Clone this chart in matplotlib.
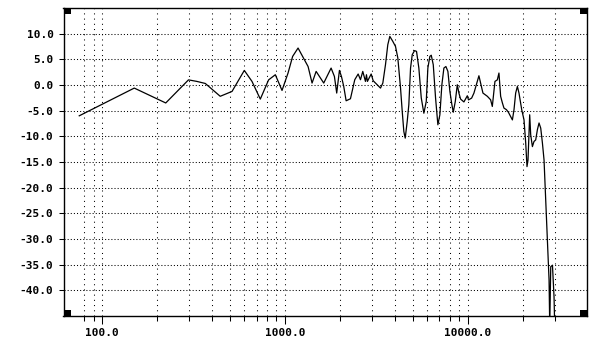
import matplotlib
matplotlib.use("Agg")
import matplotlib.pyplot as plt
from matplotlib.patches import Rectangle

# frequency response (Hz, dB)
freq = [75, 150, 223, 297, 330, 367, 443, 514, 600, 661, 734, 815, 887, 965,
        1041, 1103, 1181, 1295, 1340, 1409, 1483, 1632, 1791, 1867, 1922, 1989,
        2040, 2100, 2164, 2285, 2413, 2518, 2593, 2669, 2761, 2796, 2830, 2967,
        3043, 3266, 3337, 3436, 3553, 3658, 3752, 3897, 4032, 4151, 4295, 4388,
        4477, 4556, 4672, 4768, 4872, 4977, 5124, 5254, 5410, 5576, 5762, 5939,
        6060, 6214, 6325, 6487, 6678, 6875, 7050, 7230, 7416, 7606, 7800, 7998,
        8203, 8348, 8562, 8781, 8960, 9154, 9543, 9962, 10110, 10520, 10830,
        11160, 11530, 11780, 12130, 12820, 13360, 13650, 14110, 14540, 14840,
        15160, 15500, 15810, 16300, 16710, 17200, 17580, 17940, 18320, 18720,
        19100, 19770, 20350, 20790, 21130, 21400, 21860, 22140, 22620, 23080,
        23580, 24090, 24590, 25120, 25660, 26190, 26750, 27330, 27900, 28140,
        28500, 29120, 29710, 30000]
level = [-6.0, -0.6, -3.5, 1.0, 0.7, 0.3, -2.2, -1.25, 2.84, 0.7, -2.75, 1.0,
         2.0, -1.06, 2.33, 5.57, 7.2, 4.6, 3.6, 0.38, 2.65, 0.38, 3.3, 1.67,
         -1.57, 2.84, 1.67, -0.28, -3.07, -2.68, 1.03, 2.14, 1.03, 2.65, 0.7,
         2.0, 0.7, 2.14, 0.83, -0.28, -0.6, 0.38, 3.95, 7.85, 9.47, 8.5, 7.5,
         5.26, -0.6, -5.16, -9.06, -10.35, -7.1, -3.85, 3.3, 5.9, 6.7, 6.55,
         3.3, -2.5, -5.5, -3.2, 3.3, 5.57, 5.8, 3.95, -2.55, -7.75, -5.8, 0.05,
         3.3, 3.6, 2.65, -1.25, -3.85, -5.3, -3.2, 0.05, -1.57, -2.74, -3.3,
         -2.1, -2.9, -2.55, -1.57, 0.05, 1.8, 0.38, -1.57, -2.2, -2.88, -4.18,
         0.7, 1.0, 2.33, -2.2, -3.5, -4.5, -4.8, -5.3, -6.13, -6.8, -4.8, -1.57,
         -0.28, -1.57, -4.8, -6.8, -11.3, -15.9, -14.6, -5.8, -9.7, -12.0,
         -11.0, -10.7, -8.7, -7.4, -8.4, -11.3, -14.6, -22.4, -30.2, -38.0,
         -47.0, -35.4, -35.1, -41.3, -48.0]

y_ticks = [10, 5, 0, -5, -10, -15, -20, -25, -30, -35, -40]
x_major = [100, 1000, 10000]
x_major_labels = ["100.0", "1000.0", "10000.0"]
x_minor = [80, 90, 200, 300, 400, 500, 600, 700, 800, 900,
           2000, 3000, 4000, 5000, 6000, 7000, 8000, 9000, 20000, 30000]

font = {"family": "DejaVu Sans Mono", "weight": "bold", "size": 8}

fig = plt.figure(figsize=(5.96, 3.5), dpi=100)
ax = fig.add_axes([63.5 / 596, 34 / 350, 523.5 / 596, 308 / 350])

ax.semilogx(freq, level, color="black", linewidth=0.9)
ax.set_xlim(61.5, 45000)
ax.set_ylim(-45, 15)

# dotted grid
for y in y_ticks:
    ax.axhline(y, color="black", linewidth=0.75, linestyle=(0, (1, 2)), zorder=0)
for x in x_major + x_minor:
    ax.axvline(x, color="black", linewidth=0.75, linestyle=(0, (1, 4)), zorder=0)

ax.set_yticks(y_ticks)
ax.set_yticklabels([f"{v:.1f}" for v in y_ticks], fontdict=font)
ax.set_xticks(x_major)
ax.set_xticklabels(x_major_labels, fontdict=font)
ax.set_xticks(x_minor, minor=True)
ax.xaxis.set_minor_formatter(plt.NullFormatter())

ax.tick_params(axis="y", direction="out", length=3.6, width=0.75, pad=3.6)
ax.tick_params(axis="x", which="major", direction="out", length=5.8, width=0.75, pad=2.5)
ax.tick_params(axis="x", which="minor", direction="out", length=3.6, width=0.75)
ax.tick_params(axis="y", which="minor", length=0)
ax.tick_params(top=False, right=False)

for s in ax.spines.values():
    s.set_linewidth(1.0)
    s.set_color("black")

# little black squares in the corners
w, h = 7 / 523.5, 6 / 308
for cx, cy in [(0, 0), (0, 1 - h), (1 - w, 0), (1 - w, 1 - h)]:
    ax.add_patch(Rectangle((cx, cy), w, h, transform=ax.transAxes,
                           facecolor="black", edgecolor="none", zorder=5,
                           clip_on=False))

fig.savefig("out.png", dpi=100, facecolor="white")
